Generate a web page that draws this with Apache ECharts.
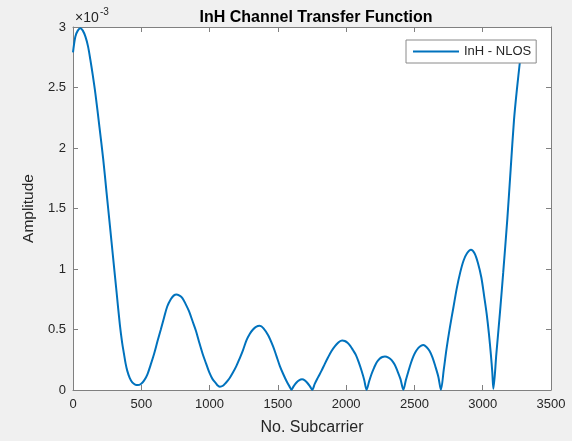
<!DOCTYPE html>
<html>
<head>
<meta charset="utf-8">
<script src="https://cdn.jsdelivr.net/npm/echarts@6/dist/echarts.min.js"></script>
<style>
html,body{margin:0;padding:0;background:#f0f0f0;}
#chart{width:572px;height:441px;}
</style>
</head>
<body>
<div id="chart"></div>
<script>
// Subcarrier index
var subcarrier = [
  0, 17, 35, 54, 72, 91, 110, 127, 145, 164, 194, 221, 245, 270, 294, 319, 343, 360, 373, 385, 397, 415, 434, 455, 475, 497,
  520, 545, 569, 594, 618, 643, 667, 690, 716, 737, 757, 780, 801, 825, 850, 875, 900, 925, 949, 974, 998, 1022, 1047, 1062, 1076, 1098, 1120, 1145, 1169,
  1195, 1220, 1245, 1270, 1295, 1318, 1340, 1367, 1395, 1430, 1465, 1490, 1514, 1540, 1565, 1585, 1600,
  1615, 1635, 1655, 1677, 1697, 1715, 1735, 1752,
  1770, 1794, 1820, 1843, 1868, 1892, 1917, 1941, 1958, 1972, 1990, 2010, 2030, 2050, 2071, 2092, 2113, 2132, 2150,
  2168, 2186, 2205, 2223, 2245, 2265, 2284, 2310, 2333, 2355, 2375, 2398, 2419,
  2437, 2456, 2475, 2493, 2511, 2529, 2547, 2566, 2588, 2610, 2632, 2652, 2675, 2694,
  2715, 2735, 2760, 2785, 2810, 2835, 2860, 2885, 2914, 2940, 2965, 2990, 3010, 3029, 3045, 3060, 3070, 3078,
  3100, 3127, 3150, 3180, 3205, 3229, 3250, 3276
];
// Amplitude in units of 1e-3
var amplitudeE3 = [
  2.79, 2.92, 2.97, 2.99, 2.97, 2.92, 2.84, 2.73, 2.60, 2.45, 2.17, 1.91, 1.64, 1.36, 1.09, 0.81, 0.54, 0.39, 0.30, 0.22, 0.16, 0.10, 0.063, 0.045, 0.041, 0.05,
  0.077, 0.13, 0.21, 0.30, 0.40, 0.50, 0.60, 0.69, 0.75, 0.78, 0.79, 0.78, 0.76, 0.71, 0.65, 0.57, 0.49, 0.39, 0.30, 0.22, 0.145, 0.09, 0.055, 0.035, 0.027, 0.035, 0.06, 0.095, 0.14,
  0.195, 0.26, 0.33, 0.41, 0.465, 0.50, 0.522, 0.53, 0.51, 0.45, 0.36, 0.28, 0.20, 0.13, 0.07, 0.03, 0.003,
  0.03, 0.06, 0.08, 0.088, 0.08, 0.06, 0.03, 0.002,
  0.05, 0.104, 0.16, 0.214, 0.27, 0.32, 0.36, 0.39, 0.405, 0.41, 0.405, 0.39, 0.365, 0.33, 0.29, 0.23, 0.159, 0.085, 0.002,
  0.07, 0.132, 0.185, 0.228, 0.258, 0.273, 0.277, 0.268, 0.247, 0.21, 0.159, 0.09, 0.002,
  0.08, 0.155, 0.225, 0.28, 0.32, 0.348, 0.365, 0.371, 0.355, 0.324, 0.27, 0.2, 0.11, 0.002,
  0.17, 0.34, 0.52, 0.68, 0.84, 0.97, 1.07, 1.13, 1.16, 1.13, 1.05, 0.93, 0.78, 0.63, 0.47, 0.29, 0.15, 0.01,
  0.30, 0.65, 0.97, 1.41, 1.83, 2.23, 2.48, 2.75
];
var xTicks = [0, 500, 1000, 1500, 2000, 2500, 3000, 3500];
var yTicks = [0, 0.5, 1, 1.5, 2, 2.5, 3];
var seriesName = 'InH - NLOS';
var titleText = 'InH Channel Transfer Function';
var xName = 'No. Subcarrier';
var yName = 'Amplitude';

var points = subcarrier.map(function (x, i) { return [x, amplitudeE3[i]]; });

var axisColor = '#808080';
var labelColor = '#262626';
var font = 'Liberation Sans, Arial, Helvetica, sans-serif';

var chart = echarts.init(document.getElementById('chart'), null, {renderer: 'canvas'});
var xMin = xTicks[0], xMax = xTicks[xTicks.length - 1], xInt = xTicks[1] - xTicks[0];
var yMin = yTicks[0], yMax = yTicks[yTicks.length - 1], yInt = yTicks[1] - yTicks[0];

function plain(v) { return String(v); }

function baseX(pos, showLabel) {
  return {
    type: 'value', position: pos, min: xMin, max: xMax, interval: xInt,
    axisLine: {show: true, onZero: false, lineStyle: {color: axisColor, width: 1}},
    axisTick: {show: true, inside: true, length: 5, lineStyle: {color: axisColor}},
    axisLabel: {show: showLabel, color: labelColor, fontSize: 13, fontFamily: font, margin: 8, formatter: plain},
    splitLine: {show: false}
  };
}
function baseY(pos, showLabel) {
  return {
    type: 'value', position: pos, min: yMin, max: yMax, interval: yInt,
    axisLine: {show: true, onZero: false, lineStyle: {color: axisColor, width: 1}},
    axisTick: {show: true, inside: true, length: 5, lineStyle: {color: axisColor}},
    axisLabel: {show: showLabel, color: labelColor, fontSize: 13, fontFamily: font, margin: 7, formatter: plain},
    splitLine: {show: false}
  };
}
var xb = baseX('bottom', true);
xb.name = xName; xb.nameLocation = 'middle'; xb.nameGap = 30;
xb.nameTextStyle = {color: labelColor, fontSize: 16, fontFamily: font};
var yl = baseY('left', true);
yl.name = yName; yl.nameLocation = 'middle'; yl.nameGap = 31;
yl.nameTextStyle = {color: labelColor, fontSize: 15.5, fontFamily: font};

chart.setOption({
  backgroundColor: '#f0f0f0',
  animation: false,
  title: {
    text: titleText, left: 311, top: 5, textAlign: 'center',
    textStyle: {fontSize: 16, fontWeight: 'bold', color: '#000', fontFamily: font}
  },
  grid: {left: 73, top: 27, right: 21, bottom: 50, show: true, backgroundColor: '#ffffff', borderWidth: 0},
  xAxis: [xb, baseX('top', false)],
  yAxis: [yl, baseY('right', false)],
  legend: {
    show: true, left: 406, top: 40,
    padding: [5, 5, 5, 7],
    itemWidth: 46, itemHeight: 2,
    icon: 'rect',
    backgroundColor: '#ffffff', borderColor: '#8a8a8a', borderWidth: 1,
    textStyle: {color: labelColor, fontSize: 13, fontFamily: font, lineHeight: 13},
    data: [seriesName]
  },
  graphic: [
    {type: 'text', left: 75, top: 11, style: {text: '×10', fontSize: 14, fontFamily: font, fill: labelColor}},
    {type: 'text', left: 100, top: 7, style: {text: '-3', fontSize: 10, fontFamily: font, fill: labelColor}}
  ],
  series: [{
    name: seriesName, type: 'line', data: points,
    xAxisIndex: 0, yAxisIndex: 0,
    symbol: 'none', showSymbol: false, smooth: 0.3,
    lineStyle: {color: '#0072BD', width: 2},
    itemStyle: {color: '#0072BD'}
  }]
});
</script>
</body>
</html>
